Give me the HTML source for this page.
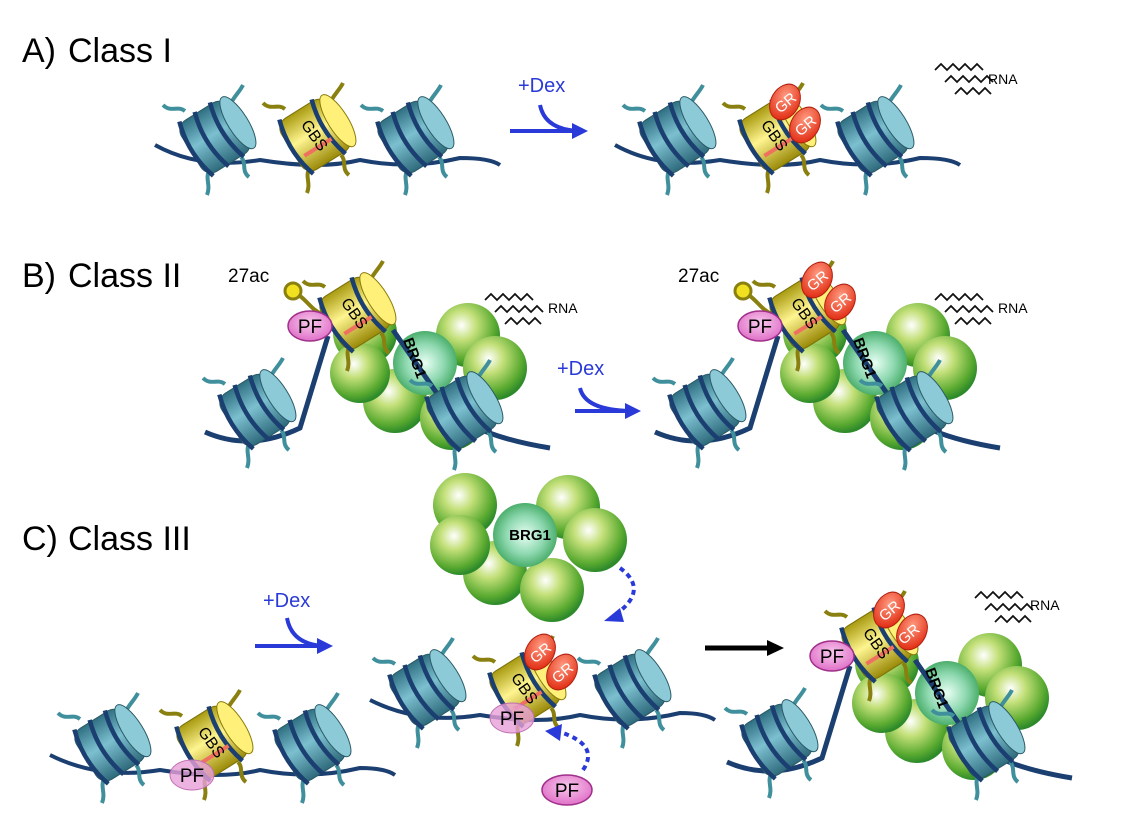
<!DOCTYPE html>
<html><head><meta charset="utf-8"><style>
html,body{margin:0;padding:0;background:#fff;}
svg{display:block;font-family:"Liberation Sans",sans-serif;}
</style></head><body>
<svg width="1125" height="832" viewBox="0 0 1125 832" xmlns="http://www.w3.org/2000/svg">
<defs>
<linearGradient id="tg" x1="0" y1="0" x2="1" y2="0">
<stop offset="0" stop-color="#2f6f82"/><stop offset="0.45" stop-color="#7cc0d0"/><stop offset="1" stop-color="#2e6a7c"/></linearGradient>
<linearGradient id="yg" x1="0" y1="0" x2="1" y2="0">
<stop offset="0" stop-color="#a89a10"/><stop offset="0.45" stop-color="#fff590"/><stop offset="1" stop-color="#9a8a08"/></linearGradient>
<radialGradient id="gg" cx="0.4" cy="0.35" r="0.65">
<stop offset="0" stop-color="#ffffff"/><stop offset="0.35" stop-color="#c4e07a"/><stop offset="0.8" stop-color="#5aaa30"/><stop offset="1" stop-color="#2d8a2a"/></radialGradient>
<radialGradient id="gc" cx="0.5" cy="0.5" r="0.6">
<stop offset="0" stop-color="#e8fff4"/><stop offset="0.5" stop-color="#8ed8b0"/><stop offset="1" stop-color="#2a9a4a"/></radialGradient>
<radialGradient id="rg" cx="0.4" cy="0.35" r="0.7">
<stop offset="0" stop-color="#ff9a80"/><stop offset="1" stop-color="#e02a10"/></radialGradient>
<radialGradient id="pg" cx="0.5" cy="0.4" r="0.6">
<stop offset="0" stop-color="#f7c8ec"/><stop offset="1" stop-color="#e070c8"/></radialGradient>
<g id="nuc">
<path d="M-30,-26 c-8,-6 -14,2 -22,-6 M14,-30 c4,-10 10,-14 14,-22 M26,20 c6,6 0,14 8,20 M-6,34 c-4,8 2,14 -2,24" stroke="#3f8f9c" stroke-width="4" fill="none"/>
<g transform="rotate(58)">
<rect x="-30" y="-28" width="60" height="56" rx="12" fill="url(#tg)" stroke="#2a5a66" stroke-width="1"/>
<ellipse cx="0" cy="-27" rx="30" ry="10" fill="#8ccad8" stroke="#2a5a66"/>
<path d="M-32,-14 Q0,-4 32,-14 M-32,4 Q0,14 32,4 M-32,22 Q0,32 32,22" stroke="#1b3f70" stroke-width="4.5" fill="none"/>
</g></g>
<g id="ynuc">
<path d="M-30,-26 c-8,-6 -14,2 -22,-6 M14,-30 c4,-10 10,-14 14,-22 M26,20 c6,6 0,14 8,20 M-6,34 c-4,8 2,14 -2,24" stroke="#8a8010" stroke-width="4" fill="none"/>
<g transform="rotate(58)">
<rect x="-30" y="-28" width="60" height="56" rx="12" fill="url(#yg)" stroke="#7a7008" stroke-width="1"/>
<ellipse cx="0" cy="-27" rx="30" ry="10" fill="#fff07a" stroke="#8a7a08"/>
<path d="M-32,-16 Q0,-6 32,-16 M-32,22 Q0,32 32,22" stroke="#1b3f70" stroke-width="4.5" fill="none"/>
<path d="M12,-12 L12,20" stroke="#f07060" stroke-width="4"/>
</g>
<text x="0" y="6" font-size="16" text-anchor="middle" transform="rotate(55)">GBS</text>
</g>
<g id="rna" stroke="#111" stroke-width="1.8" fill="none">
<path d="M0,8 l6,-6 6,6 6,-6 6,6 6,-6 6,6 6,-6 6,6"/>
<path d="M10,20 l6,-6 6,6 6,-6 6,6 6,-6 6,6 6,-6 6,6"/>
<path d="M20,32 l6,-6 6,6 6,-6 6,6 6,-6 6,6"/>
</g>
<g id="cluster">
<circle cx="-65" cy="-35" r="32" fill="url(#gg)"/>
<circle cx="38" cy="-33" r="32" fill="url(#gg)"/>
<circle cx="65" cy="0" r="32" fill="url(#gg)"/>
<circle cx="-35" cy="33" r="32" fill="url(#gg)"/>
<circle cx="22" cy="50" r="32" fill="url(#gg)"/>
<circle cx="-70" cy="5" r="30" fill="url(#gg)"/>
<circle cx="-5" cy="-5" r="32" fill="url(#gc)"/>
</g>
</defs>
<rect width="1125" height="832" fill="#fff"/>

<!-- A -->
<text x="22" y="62" font-size="34">A)</text><text x="68" y="62" font-size="34">Class I</text>
<path d="M155,145 Q200,170 260,160 Q320,170 360,160 Q410,170 460,158 Q490,158 500,165" stroke="#1b3f70" stroke-width="4" fill="none"/>
<use href="#nuc" x="215" y="137"/><use href="#ynuc" x="315" y="135"/><use href="#nuc" x="413" y="137"/>
<text x="518" y="92" font-size="20" fill="#2a3ad8">+Dex</text>
<path d="M540,105 Q545,130 580,131" stroke="#2a3ad8" stroke-width="4" fill="none"/>
<path d="M510,131 L575,131" stroke="#2a3ad8" stroke-width="4"/><path d="M572,123 L588,131 L572,139Z" fill="#2a3ad8"/>
<path d="M615,145 Q660,170 720,160 Q780,170 820,160 Q870,170 920,158 Q950,158 960,165" stroke="#1b3f70" stroke-width="4" fill="none"/>
<use href="#nuc" x="675" y="137"/><use href="#ynuc" x="775" y="135"/><use href="#nuc" x="873" y="137"/>
<ellipse cx="785" cy="102" rx="14" ry="19" fill="url(#rg)" stroke="#b02010" transform="rotate(30 785 102)"/>
<text x="785" y="108" font-size="15" fill="#fff" text-anchor="middle" transform="rotate(-40 785 102)">GR</text>
<ellipse cx="805" cy="125" rx="14" ry="19" fill="url(#rg)" stroke="#b02010" transform="rotate(30 805 125)"/>
<text x="805" y="131" font-size="15" fill="#fff" text-anchor="middle" transform="rotate(-40 805 125)">GR</text>
<use href="#rna" x="935" y="62"/><text x="988" y="84" font-size="14">RNA</text>

<!-- B -->
<text x="22" y="287" font-size="34">B)</text><text x="68" y="287" font-size="34">Class II</text>
<g id="bset">
<use href="#cluster" x="430" y="368"/>
<path d="M205,432 Q250,452 300,428 L328,336 M393,330 L445,405 Q470,435 550,448" stroke="#1b3f70" stroke-width="5" fill="none"/>
<text x="403" y="340" font-size="15" font-weight="bold" transform="rotate(70 403 340)">BRG1</text>
<use href="#nuc" x="255" y="410"/>
<use href="#nuc" x="462" y="412"/>
<path d="M300,296 c8,6 12,14 22,18" stroke="#8a8010" stroke-width="4" fill="none"/>
<circle cx="293" cy="291" r="8" fill="#f0e020" stroke="#8a8010" stroke-width="3"/>
<use href="#ynuc" x="355" y="313"/>
<ellipse cx="310" cy="326" rx="22" ry="15" fill="url(#pg)" stroke="#a0308a" stroke-width="1.5"/>
<text x="310" y="333" font-size="19" text-anchor="middle">PF</text>
<text x="228" y="282" font-size="19">27ac</text>
<use href="#rna" x="485" y="292"/><text x="548" y="313" font-size="14">RNA</text>
</g>
<text x="557" y="375" font-size="20" fill="#2a3ad8">+Dex</text>
<path d="M580,388 Q585,410 630,411" stroke="#2a3ad8" stroke-width="4" fill="none"/>
<path d="M575,411 L628,411" stroke="#2a3ad8" stroke-width="4"/><path d="M625,403 L641,411 L625,419Z" fill="#2a3ad8"/>
<use href="#bset" x="450" y="0"/>
<ellipse cx="817" cy="280" rx="14" ry="19" fill="url(#rg)" stroke="#b02010" transform="rotate(30 817 280)"/>
<text x="817" y="286" font-size="15" fill="#fff" text-anchor="middle" transform="rotate(-40 817 280)">GR</text>
<ellipse cx="840" cy="302" rx="14" ry="19" fill="url(#rg)" stroke="#b02010" transform="rotate(30 840 302)"/>
<text x="840" y="308" font-size="15" fill="#fff" text-anchor="middle" transform="rotate(-40 840 302)">GR</text>

<!-- C -->
<text x="22" y="550" font-size="34">C)</text><text x="68" y="550" font-size="34">Class III</text>
<use href="#cluster" x="530" y="540"/>
<text x="530" y="540" font-size="15" font-weight="bold" text-anchor="middle">BRG1</text>
<path d="M620,568 Q650,590 615,615" stroke="#2a3ad8" stroke-width="4" stroke-dasharray="5,4" fill="none"/>
<path d="M620,608 L604,621 L624,622Z" fill="#2a3ad8"/>
<text x="263" y="607" font-size="20" fill="#2a3ad8">+Dex</text>
<path d="M287,618 Q292,645 325,646" stroke="#2a3ad8" stroke-width="4" fill="none"/>
<path d="M255,646 L320,646" stroke="#2a3ad8" stroke-width="4"/><path d="M317,638 L333,646 L317,654Z" fill="#2a3ad8"/>
<path d="M50,755 Q100,780 160,770 Q220,780 260,770 Q310,780 360,768 Q385,768 395,775" stroke="#1b3f70" stroke-width="4" fill="none"/>
<use href="#nuc" x="110" y="745"/><use href="#ynuc" x="212" y="742"/><use href="#nuc" x="310" y="745"/>
<ellipse cx="192" cy="775" rx="22" ry="15" fill="#e8a0d8" fill-opacity="0.8" stroke="#c070b0"/>
<text x="192" y="782" font-size="19" text-anchor="middle">PF</text>
<path d="M370,700 Q420,725 480,715 Q540,725 580,715 Q630,725 680,713 Q705,713 715,720" stroke="#1b3f70" stroke-width="4" fill="none"/>
<use href="#nuc" x="425" y="690"/><use href="#ynuc" x="525" y="688"/><use href="#nuc" x="630" y="690"/>
<ellipse cx="540" cy="652" rx="14" ry="19" fill="url(#rg)" stroke="#b02010" transform="rotate(30 540 652)"/>
<text x="540" y="658" font-size="15" fill="#fff" text-anchor="middle" transform="rotate(-40 540 652)">GR</text>
<ellipse cx="562" cy="672" rx="14" ry="19" fill="url(#rg)" stroke="#b02010" transform="rotate(30 562 672)"/>
<text x="562" y="678" font-size="15" fill="#fff" text-anchor="middle" transform="rotate(-40 562 672)">GR</text>
<ellipse cx="512" cy="718" rx="22" ry="15" fill="#e8a0d8" fill-opacity="0.8" stroke="#c070b0"/>
<text x="512" y="725" font-size="19" text-anchor="middle">PF</text>
<path d="M583,770 Q600,745 560,732" stroke="#2a3ad8" stroke-width="4" stroke-dasharray="5,4" fill="none"/>
<path d="M562,724 L545,731 L560,741Z" fill="#2a3ad8"/>
<ellipse cx="567" cy="790" rx="25" ry="15" fill="url(#pg)" stroke="#a0308a" stroke-width="1.5"/>
<text x="567" y="797" font-size="19" text-anchor="middle">PF</text>
<path d="M705,648 L770,648" stroke="#000" stroke-width="5"/><path d="M767,640 L784,648 L767,656Z" fill="#000"/>
<g transform="translate(522,330)">
<use href="#cluster" x="430" y="368"/>
<path d="M205,432 Q250,452 300,428 L328,336 M393,330 L445,405 Q470,435 550,448" stroke="#1b3f70" stroke-width="5" fill="none"/>
<text x="403" y="340" font-size="15" font-weight="bold" transform="rotate(70 403 340)">BRG1</text>
<use href="#nuc" x="255" y="410"/><use href="#nuc" x="462" y="412"/>
<use href="#ynuc" x="355" y="313"/>
<ellipse cx="310" cy="326" rx="22" ry="15" fill="url(#pg)" stroke="#a0308a" stroke-width="1.5"/>
<text x="310" y="333" font-size="19" text-anchor="middle">PF</text>
<ellipse cx="367" cy="280" rx="14" ry="19" fill="url(#rg)" stroke="#b02010" transform="rotate(30 367 280)"/>
<text x="367" y="286" font-size="15" fill="#fff" text-anchor="middle" transform="rotate(-40 367 280)">GR</text>
<ellipse cx="390" cy="302" rx="14" ry="19" fill="url(#rg)" stroke="#b02010" transform="rotate(30 390 302)"/>
<text x="390" y="308" font-size="15" fill="#fff" text-anchor="middle" transform="rotate(-40 390 308)">GR</text>
</g>
<use href="#rna" x="975" y="590"/><text x="1030" y="610" font-size="14">RNA</text>
</svg>
</body></html>
